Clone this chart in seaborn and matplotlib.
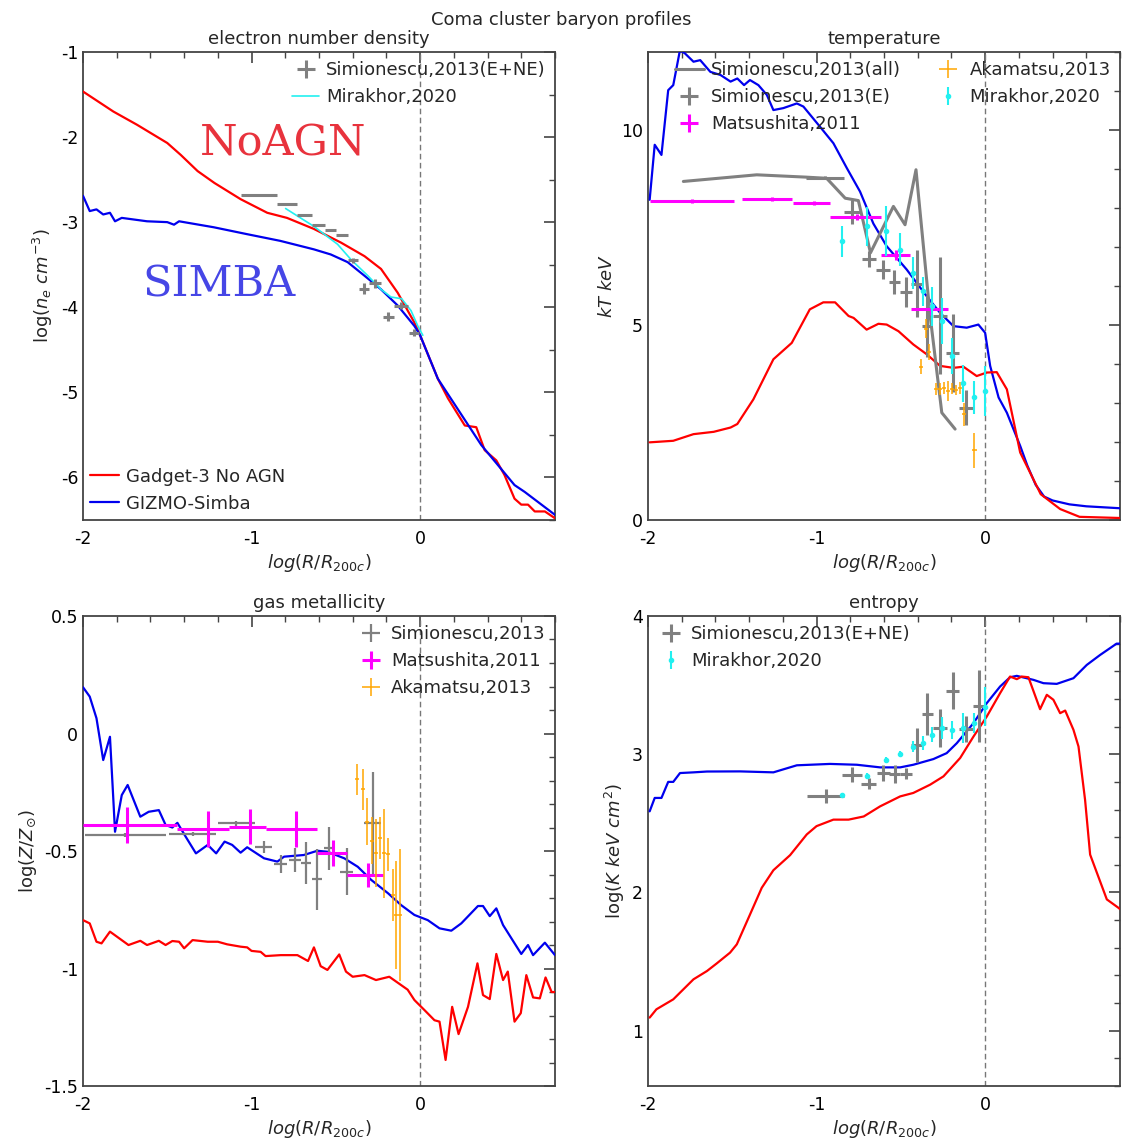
import numpy as np
import matplotlib
matplotlib.use('AGG')
from matplotlib import pyplot as plt
from matplotlib.ticker import MultipleLocator, FormatStrFormatter
import seaborn as sns

# ---------------- electron number density ----------------
NE_X_GADGET = [-2.0, -1.82, -1.68, -1.50, -1.42, -1.32, -1.22, -1.065, -0.907, -0.79, -0.63, -0.47,
               -0.33, -0.232, -0.133, -0.034, 0.0, 0.105, 0.165, 0.265, 0.333, 0.383, 0.452, 0.50,
               0.56, 0.60, 0.64, 0.68, 0.74, 0.80]
NE_Y_GADGET = [-1.465, -1.70, -1.855, -2.07, -2.21, -2.40, -2.54, -2.73, -2.89, -2.95, -3.08, -3.24,
               -3.40, -3.55, -3.83, -4.18, -4.33, -4.84, -5.07, -5.39, -5.41, -5.68, -5.80, -5.97,
               -6.25, -6.32, -6.32, -6.40, -6.40, -6.48]
NE_X_SIMBA = [-2.0, -1.96, -1.92, -1.88, -1.84, -1.81, -1.77, -1.62, -1.50, -1.46, -1.43, -1.225,
              -1.03, -0.83, -0.63, -0.53, -0.43, -0.33, -0.232, -0.133, -0.034, 0.0, 0.105, 0.363,
              0.56, 0.62, 0.80]
NE_Y_SIMBA = [-2.69, -2.87, -2.85, -2.91, -2.89, -2.99, -2.95, -2.99, -3.0, -3.03, -2.99, -3.06,
              -3.14, -3.22, -3.32, -3.38, -3.47, -3.63, -3.79, -3.98, -4.22, -4.33, -4.84, -5.62,
              -6.09, -6.17, -6.44]
NE_X_MIRAKHOR = [-0.798, -0.63, -0.49, -0.41, -0.31, -0.232, -0.173, -0.11, -0.054, -0.014, 0.016]
NE_Y_MIRAKHOR = [-2.84, -3.05, -3.26, -3.44, -3.63, -3.79, -3.88, -3.90, -4.04, -4.22, -4.33]
NE_SIM_X = [-0.956, -0.79, -0.684, -0.602, -0.533, -0.465, -0.40, -0.334, -0.268, -0.188, -0.114, -0.035]
NE_SIM_XERR = [0.109, 0.058, 0.045, 0.037, 0.033, 0.035, 0.03, 0.03, 0.036, 0.035, 0.04, 0.03]
NE_SIM_Y = [-2.686, -2.79, -2.92, -3.03, -3.09, -3.15, -3.45, -3.78, -3.72, -4.11, -3.98, -4.30]
NE_SIM_YERR = [0.01, 0.01, 0.01, 0.01, 0.01, 0.01, 0.03, 0.06, 0.05, 0.05, 0.04, 0.04]

# ---------------- temperature ----------------
T_X_SIMBA = [-1.99, -1.96, -1.92, -1.88, -1.85, -1.81, -1.78, -1.73, -1.69, -1.63, -1.57, -1.51,
             -1.47, -1.43, -1.395, -1.345, -1.295, -1.256, -1.197, -1.117, -1.078, -0.979, -0.90,
             -0.82, -0.742, -0.663, -0.584, -0.465, -0.347, -0.267, -0.188, -0.109, -0.04, 0.0,
             0.03, 0.08, 0.129, 0.208, 0.25, 0.30, 0.35, 0.40, 0.50, 0.60, 0.80]
T_Y_SIMBA = [8.21, 9.62, 9.36, 11.02, 11.15, 12.05, 11.96, 11.75, 11.79, 11.49, 11.41, 11.24,
             11.32, 11.15, 11.28, 11.15, 10.9, 10.51, 10.56, 10.68, 10.6, 10.08, 9.66,
             9.02, 8.42, 7.60, 7.02, 6.42, 5.74, 5.31, 4.97, 4.93, 5.01, 4.80,
             3.95, 3.14, 2.75, 1.90, 1.4, 0.9, 0.6, 0.5, 0.4, 0.35, 0.3]
T_X_GADGET = [-1.99, -1.85, -1.73, -1.61, -1.51, -1.47, -1.375, -1.256, -1.147, -1.04, -0.96, -0.89,
              -0.81, -0.78, -0.703, -0.633, -0.584, -0.514, -0.426, -0.347, -0.267, -0.188, -0.129,
              -0.05, 0.01, 0.069, 0.129, 0.208, 0.33, 0.445, 0.56, 0.80]
T_Y_GADGET = [1.99, 2.03, 2.20, 2.26, 2.37, 2.46, 3.09, 4.12, 4.54, 5.40, 5.58, 5.58,
              5.23, 5.18, 4.88, 5.03, 5.01, 4.84, 4.50, 4.25, 3.95, 3.90, 3.93,
              3.69, 3.78, 3.79, 3.35, 1.73, 0.66, 0.28, 0.08, 0.05]
T_X_SIM_ALL = [-1.79, -1.355, -1.06, -0.94, -0.83, -0.752, -0.68, -0.544, -0.475, -0.41, -0.326, -0.257, -0.178]
T_Y_SIM_ALL = [8.68, 8.85, 8.79, 8.76, 8.25, 8.19, 6.85, 8.04, 7.57, 8.98, 5.23, 2.75, 2.33]
T_SIM_X = [-0.95, -0.792, -0.69, -0.607, -0.538, -0.471, -0.405, -0.343, -0.267, -0.192, -0.113]
T_SIM_XERR = [0.11, 0.048, 0.042, 0.04, 0.035, 0.035, 0.035, 0.03, 0.04, 0.04, 0.04]
T_SIM_Y = [8.78, 7.90, 6.69, 6.42, 6.10, 5.84, 6.06, 4.97, 5.24, 4.29, 2.88]
T_SIM_YERR = [0.05, 0.3, 0.2, 0.25, 0.3, 0.38, 0.86, 0.8, 1.5, 1.0, 0.45]
T_MAT_X = [-1.74, -1.266, -1.015, -0.76, -0.528, -0.322]
T_MAT_XLO = [0.25, 0.178, 0.126, 0.16, 0.092, 0.118]
T_MAT_XHI = [0.25, 0.122, 0.095, 0.14, 0.083, 0.099]
T_MAT_Y = [8.18, 8.23, 8.13, 7.77, 6.79, 5.40]
T_MAT_YERR = [0.06, 0.06, 0.06, 0.08, 0.12, 0.15]
T_AKA_X = [-0.352, -0.331, -0.383, -0.291, -0.267, -0.243, -0.222, -0.198, -0.174, -0.148, -0.125, -0.063]
T_AKA_Y = [4.90, 4.31, 3.93, 3.35, 3.35, 3.39, 3.31, 3.37, 3.33, 3.39, 2.71, 1.79]
T_AKA_YERR = [0.24, 0.2, 0.2, 0.15, 0.15, 0.15, 0.25, 0.15, 0.12, 0.15, 0.3, 0.45]
T_MIR_X = [-0.85, -0.703, -0.59, -0.504, -0.43, -0.37, -0.317, -0.257, -0.194, -0.129, -0.063, 0.0]
T_MIR_Y = [7.14, 7.53, 7.40, 6.93, 6.33, 5.86, 5.48, 5.10, 4.20, 3.50, 3.14, 3.31]
T_MIR_YERR = [0.4, 0.5, 0.64, 0.43, 0.4, 0.38, 0.5, 0.6, 0.47, 0.47, 0.43, 0.64]

# ---------------- gas metallicity ----------------
Z_X_SIMBA = [-2.0, -1.96, -1.92, -1.88, -1.84, -1.82, -1.81, -1.77, -1.735, -1.66, -1.61, -1.55,
             -1.51, -1.47, -1.44, -1.39, -1.33, -1.26, -1.21, -1.16, -1.115, -1.065, -1.026,
             -0.926, -0.847, -0.807, -0.69, -0.61, -0.55, -0.45, -0.37, -0.29, -0.19, -0.113,
             -0.034, 0.045, 0.115, 0.185, 0.244, 0.343, 0.373, 0.413, 0.452, 0.492, 0.542,
             0.60, 0.64, 0.67, 0.74, 0.80]
Z_Y_SIMBA = [0.197, 0.157, 0.065, -0.113, -0.014, -0.28, -0.418, -0.262, -0.219, -0.354, -0.333, -0.326,
             -0.389, -0.40, -0.38, -0.44, -0.51, -0.474, -0.51, -0.46, -0.474, -0.507, -0.484,
             -0.531, -0.545, -0.524, -0.517, -0.499, -0.503, -0.531, -0.567, -0.623, -0.68, -0.73,
             -0.772, -0.794, -0.829, -0.839, -0.808, -0.734, -0.734, -0.777, -0.744, -0.815, -0.872,
             -0.938, -0.90, -0.943, -0.89, -0.943]
Z_X_GADGET = [-2.0, -1.96, -1.92, -1.89, -1.84, -1.73, -1.66, -1.62, -1.55, -1.51, -1.47, -1.43,
              -1.40, -1.35, -1.26, -1.20, -1.145, -1.065, -1.026, -1.0, -0.946, -0.917, -0.827,
              -0.728, -0.665, -0.63, -0.59, -0.55, -0.48, -0.44, -0.40, -0.33, -0.262, -0.183,
              -0.074, -0.034, 0.026, 0.085, 0.115, 0.151, 0.19, 0.228, 0.284, 0.34, 0.373, 0.413,
              0.452, 0.492, 0.52, 0.56, 0.597, 0.63, 0.67, 0.71, 0.744, 0.78, 0.80]
Z_Y_GADGET = [-0.794, -0.808, -0.886, -0.893, -0.843, -0.90, -0.882, -0.90, -0.882, -0.90, -0.883, -0.886,
              -0.914, -0.879, -0.886, -0.886, -0.897, -0.907, -0.91, -0.925, -0.929, -0.947, -0.943,
              -0.943, -0.968, -0.91, -0.99, -1.006, -0.94, -1.013, -1.035, -1.028, -1.049, -1.035,
              -1.09, -1.134, -1.177, -1.22, -1.226, -1.389, -1.163, -1.279, -1.163, -0.978, -1.113, -1.13,
              -0.938, -1.049, -1.013, -1.226, -1.19, -1.028, -1.123, -1.127, -1.038, -1.10, -1.10]
Z_SIM_X = [-1.75, -1.35, -1.09, -0.927, -0.827, -0.744, -0.677, -0.61, -0.54, -0.436, -0.282]
Z_SIM_XERR = [0.24, 0.14, 0.11, 0.05, 0.04, 0.035, 0.03, 0.03, 0.03, 0.04, 0.05]
Z_SIM_Y = [-0.432, -0.428, -0.382, -0.484, -0.555, -0.538, -0.552, -0.62, -0.489, -0.588, -0.382]
Z_SIM_YERR = [0.01, 0.01, 0.01, 0.025, 0.04, 0.05, 0.09, 0.13, 0.09, 0.1, 0.22]
Z_MAT_X = [-1.74, -1.26, -1.01, -0.738, -0.518, -0.312]
Z_MAT_XLO = [0.26, 0.18, 0.125, 0.179, 0.092, 0.123]
Z_MAT_XHI = [0.30, 0.125, 0.093, 0.125, 0.083, 0.09]
Z_MAT_Y = [-0.389, -0.408, -0.396, -0.408, -0.507, -0.602]
Z_MAT_YERR = [0.075, 0.077, 0.075, 0.077, 0.056, 0.053]
Z_AKA_X = [-0.375, -0.341, -0.315, -0.288, -0.262, -0.238, -0.217, -0.193, -0.163, -0.143, -0.12]
Z_AKA_Y = [-0.195, -0.237, -0.375, -0.456, -0.51, -0.446, -0.51, -0.513, -0.687, -0.772, -0.772]
Z_AKA_YERR = [0.067, 0.087, 0.1, 0.1, 0.145, 0.09, 0.19, 0.07, 0.11, 0.23, 0.28]

# ---------------- entropy ----------------
K_X_SIMBA = [-1.99, -1.96, -1.92, -1.88, -1.85, -1.81, -1.73, -1.65, -1.454, -1.256, -1.117, -0.92,
             -0.761, -0.623, -0.504, -0.426, -0.307, -0.228, -0.168, -0.069, 0.01, 0.089, 0.148,
             0.188, 0.287, 0.346, 0.425, 0.524, 0.603, 0.682, 0.78, 0.80]
K_Y_SIMBA = [2.587, 2.684, 2.684, 2.80, 2.80, 2.864, 2.869, 2.875, 2.876, 2.869, 2.92, 2.93,
             2.924, 2.905, 2.905, 2.924, 2.965, 3.008, 3.08, 3.225, 3.37, 3.49, 3.557,
             3.567, 3.538, 3.514, 3.509, 3.55, 3.646, 3.718, 3.80, 3.80]
K_X_GADGET = [-1.99, -1.95, -1.85, -1.73, -1.65, -1.592, -1.513, -1.473, -1.395, -1.325, -1.256,
              -1.157, -1.058, -1.0, -0.90, -0.81, -0.72, -0.623, -0.504, -0.426, -0.326, -0.247,
              -0.148, -0.069, 0.01, 0.089, 0.148, 0.188, 0.217, 0.257, 0.326, 0.366, 0.405, 0.445,
              0.475, 0.524, 0.554, 0.593, 0.623, 0.722, 0.79, 0.80]
K_Y_GADGET = [1.095, 1.155, 1.227, 1.372, 1.432, 1.487, 1.565, 1.625, 1.84, 2.034, 2.161,
              2.27, 2.42, 2.48, 2.527, 2.527, 2.55, 2.623, 2.695, 2.72, 2.78, 2.84,
              2.973, 3.128, 3.273, 3.442, 3.562, 3.543, 3.562, 3.557, 3.326, 3.43, 3.394, 3.297,
              3.316, 3.177, 3.056, 2.67, 2.274, 1.95, 1.89, 1.88]
K_SIM_X = [-0.945, -0.79, -0.69, -0.604, -0.536, -0.471, -0.405, -0.342, -0.267, -0.192, -0.113, -0.037]
K_SIM_XERR = [0.11, 0.06, 0.045, 0.04, 0.033, 0.035, 0.033, 0.03, 0.04, 0.038, 0.04, 0.036]
K_SIM_Y = [2.70, 2.852, 2.787, 2.864, 2.859, 2.859, 3.068, 3.292, 3.189, 3.46, 3.18, 3.35]
K_SIM_YERR = [0.05, 0.055, 0.04, 0.06, 0.066, 0.04, 0.124, 0.154, 0.135, 0.132, 0.094, 0.26]
K_MIR_X = [-0.849, -0.703, -0.59, -0.504, -0.43, -0.37, -0.317, -0.257, -0.194, -0.129, -0.063, 0.0]
K_MIR_Y = [2.708, 2.845, 2.96, 3.004, 3.056, 3.08, 3.14, 3.19, 3.177, 3.19, 3.225, 3.345]
K_MIR_YERR = [0.01, 0.02, 0.02, 0.02, 0.04, 0.05, 0.055, 0.08, 0.065, 0.11, 0.07, 0.14]

RED = '#ff0000'
BLUE = '#0000ee'
GRAY = '#808080'
CYAN = '#22f0f0'
MAGENTA = '#ff00ff'
ORANGE = '#ffa500'

sns.set_style('white')
plt.rcParams['font.family'] = ['DejaVu Sans']
plt.rcParams['axes.unicode_minus'] = False
plt.rcParams['mathtext.fontset'] = 'dejavusans'

fig = plt.figure(figsize=(11.23, 11.42), dpi=100)
ax_ne = fig.add_axes([0.0739, 0.5447, 0.4203, 0.4098])
ax_t = fig.add_axes([0.577, 0.5447, 0.4203, 0.4098])
ax_z = fig.add_axes([0.0739, 0.049, 0.4203, 0.4116])
ax_k = fig.add_axes([0.577, 0.049, 0.4203, 0.4116])


def style_axis(ax, ylim, ymaj, ymin, title, ylabel):
    ax.set_xlim(-2, 0.8)
    ax.set_ylim(*ylim)
    ax.xaxis.set_major_locator(MultipleLocator(1))
    ax.xaxis.set_minor_locator(MultipleLocator(0.2))
    ax.yaxis.set_major_locator(MultipleLocator(ymaj))
    ax.yaxis.set_minor_locator(MultipleLocator(ymin))
    ax.xaxis.set_major_formatter(FormatStrFormatter('%g'))
    ax.yaxis.set_major_formatter(FormatStrFormatter('%g'))
    ax.tick_params(which='both', direction='in', top=True, right=True, colors='#444444',
                   labelcolor='black', labelsize=12.5)
    ax.tick_params(which='major', length=8, width=1.2)
    ax.tick_params(which='minor', length=4, width=1.0)
    ax.tick_params(axis='x', which='major', pad=7)
    for sp in ax.spines.values():
        sp.set_color('#444444')
        sp.set_linewidth(1.3)
    ax.axvline(0, color='#777777', lw=1, ls=(0, (4, 2.5)), zorder=1)
    ax.set_title(title, fontsize=13, pad=6)
    ax.set_xlabel('$log(R/R_{200c})$', fontsize=13, labelpad=3)
    ax.set_ylabel(ylabel, fontsize=13)


def sim_line(ax, x, y, color, lw=1.6):
    sns.lineplot(x=x, y=y, ax=ax, color=color, lw=lw, sort=False, estimator=None,
                 legend=False, zorder=3)
    return ax.lines[-1]


# ---- electron density ----
style_axis(ax_ne, (-6.5, -1), 1, 0.5, 'electron number density', 'log($n_e$ $cm^{-3}$)')
l_red = sim_line(ax_ne, NE_X_GADGET, NE_Y_GADGET, RED)
l_blue = sim_line(ax_ne, NE_X_SIMBA, NE_Y_SIMBA, BLUE)
l_cyan = sim_line(ax_ne, NE_X_MIRAKHOR, NE_Y_MIRAKHOR, CYAN, lw=1.2)
e1 = ax_ne.errorbar(NE_SIM_X, NE_SIM_Y, xerr=NE_SIM_XERR, yerr=NE_SIM_YERR, fmt='none',
                    ecolor=GRAY, elinewidth=2.2, zorder=4)
leg1 = ax_ne.legend([e1, l_cyan], ['Simionescu,2013(E+NE)', 'Mirakhor,2020'], loc='upper right',
                    frameon=False, fontsize=13, handlelength=1.5, handletextpad=0.4,
                    borderaxespad=0.1)
ax_ne.add_artist(leg1)
ax_ne.legend([l_red, l_blue], ['Gadget-3 No AGN', 'GIZMO-Simba'], loc='lower left',
             frameon=False, fontsize=13, handlelength=1.6, handletextpad=0.4,
             borderaxespad=0.1, borderpad=0.3)
ax_ne.text(-0.815, -2.07, 'NoAGN', color='#e8333d', fontsize=31, family='DejaVu Serif',
           ha='center', va='center')
ax_ne.text(-1.196, -3.73, 'SIMBA', color='#4646e6', fontsize=31, family='DejaVu Serif',
           ha='center', va='center')

# ---- temperature ----
style_axis(ax_t, (0, 12), 5, 1, 'temperature', '$kT\\ keV$')
sim_line(ax_t, T_X_SIMBA, T_Y_SIMBA, BLUE)
sim_line(ax_t, T_X_GADGET, T_Y_GADGET, RED)
h_all = sim_line(ax_t, T_X_SIM_ALL, T_Y_SIM_ALL, GRAY, lw=2.2)
h_all.set_zorder(4)
h_simE = ax_t.errorbar(T_SIM_X, T_SIM_Y, xerr=T_SIM_XERR, yerr=T_SIM_YERR, fmt='none',
                       ecolor=GRAY, elinewidth=2.2, zorder=4)
h_mat = ax_t.errorbar(T_MAT_X, T_MAT_Y, xerr=[T_MAT_XLO, T_MAT_XHI], yerr=T_MAT_YERR, fmt='none',
                      ecolor=MAGENTA, elinewidth=2.2, zorder=5)
h_aka = ax_t.errorbar(T_AKA_X, T_AKA_Y, xerr=0.012, yerr=T_AKA_YERR, fmt='none',
                      ecolor=ORANGE, elinewidth=1.1, zorder=5)
h_mir = ax_t.errorbar(T_MIR_X, T_MIR_Y, yerr=T_MIR_YERR, fmt='o', ms=3, color=CYAN,
                      ecolor=CYAN, elinewidth=1.5, zorder=5)
ax_t.legend([h_all, h_simE, h_mat, h_aka, h_mir],
            ['Simionescu,2013(all)', 'Simionescu,2013(E)', 'Matsushita,2011', 'Akamatsu,2013',
             'Mirakhor,2020'],
            ncol=2, loc='upper right', frameon=False, fontsize=13, handlelength=1.6,
            handletextpad=0.4, columnspacing=1.8, borderaxespad=0.1)

# ---- metallicity ----
style_axis(ax_z, (-1.5, 0.5), 0.5, 0.1, 'gas metallicity', 'log($Z/Z_{\\odot}$)')
sim_line(ax_z, Z_X_SIMBA, Z_Y_SIMBA, BLUE)
sim_line(ax_z, Z_X_GADGET, Z_Y_GADGET, RED)
z_sim = ax_z.errorbar(Z_SIM_X, Z_SIM_Y, xerr=Z_SIM_XERR, yerr=Z_SIM_YERR, fmt='none',
                      ecolor=GRAY, elinewidth=1.6, zorder=4)
z_mat = ax_z.errorbar(Z_MAT_X, Z_MAT_Y, xerr=[Z_MAT_XLO, Z_MAT_XHI], yerr=Z_MAT_YERR, fmt='none',
                      ecolor=MAGENTA, elinewidth=2.2, zorder=5)
z_aka = ax_z.errorbar(Z_AKA_X, Z_AKA_Y, xerr=0.012, yerr=Z_AKA_YERR, fmt='none',
                      ecolor=ORANGE, elinewidth=1.1, zorder=5)
ax_z.legend([z_sim, z_mat, z_aka], ['Simionescu,2013', 'Matsushita,2011', 'Akamatsu,2013'],
            loc='upper right', frameon=False, fontsize=13, handlelength=1.5, handletextpad=0.4,
            borderaxespad=0.1)

# ---- entropy ----
style_axis(ax_k, (0.6, 4), 1, 0.2, 'entropy', 'log($K\\ keV\\ cm^2$)')
sim_line(ax_k, K_X_SIMBA, K_Y_SIMBA, BLUE)
sim_line(ax_k, K_X_GADGET, K_Y_GADGET, RED)
k_sim = ax_k.errorbar(K_SIM_X, K_SIM_Y, xerr=K_SIM_XERR, yerr=K_SIM_YERR, fmt='none',
                      ecolor=GRAY, elinewidth=2.2, zorder=4)
k_mir = ax_k.errorbar(K_MIR_X, K_MIR_Y, yerr=K_MIR_YERR, fmt='o', ms=3, color=CYAN,
                      ecolor=CYAN, elinewidth=1.5, zorder=5)
ax_k.legend([k_sim, k_mir], ['Simionescu,2013(E+NE)', 'Mirakhor,2020'], loc='upper left',
            frameon=False, fontsize=13, handlelength=1.5, handletextpad=0.4, borderaxespad=0.1)

fig.suptitle('Coma cluster baryon profiles', fontsize=13, y=0.99)
fig.savefig('out.png', dpi=100)
